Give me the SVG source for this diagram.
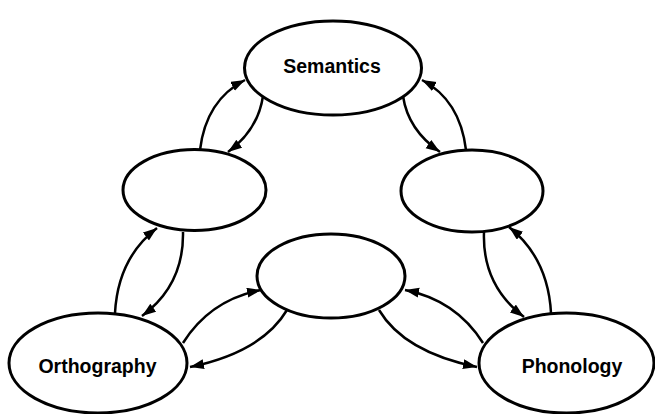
<svg xmlns="http://www.w3.org/2000/svg" width="655" height="414" viewBox="0 0 655 414">
  <style>
    .node ellipse { fill: #ffffff; stroke: #000000; stroke-width: 3; }
    .label { font-family: "Liberation Sans", Arial, sans-serif; font-weight: bold; font-size: 19.5px; fill: #000000; text-anchor: middle; }
    .edge { fill: none; stroke: #000000; stroke-width: 2.5; marker-end: url(#arrow); }
  </style>
  <defs>
    <marker id="arrow" markerUnits="userSpaceOnUse" markerWidth="15" markerHeight="11" refX="14" refY="5" orient="auto">
      <path d="M0,0 L14,5 L0,10 z" fill="#000000"/>
    </marker>
  </defs>
  <rect width="655" height="414" fill="#ffffff"/>

  <g id="connectors">
    <!-- left hidden unit <-> Semantics -->
    <path class="edge" d="M200,150 Q206,100 245,80"/>
    <path class="edge" d="M263,96 Q258,130 228,152"/>
    <!-- right hidden unit <-> Semantics -->
    <path class="edge" d="M403,96 Q408,130 440,152"/>
    <path class="edge" d="M466,150 Q460,100 422,80"/>
    <!-- Orthography <-> left hidden unit -->
    <path class="edge" d="M115,313 Q118,258 157,228"/>
    <path class="edge" d="M183,232 Q184,285 142,316"/>
    <!-- right hidden unit <-> Phonology -->
    <path class="edge" d="M484,232 Q482,285 524,317"/>
    <path class="edge" d="M551,313 Q548,258 509,227"/>
    <!-- Orthography <-> centre hidden unit -->
    <path class="edge" d="M183,343 Q210,300 261,290"/>
    <path class="edge" d="M287,310 Q262,352 190,367"/>
    <!-- centre hidden unit <-> Phonology -->
    <path class="edge" d="M379,310 Q404,352 477,367"/>
    <path class="edge" d="M483,343 Q456,300 405,290"/>
  </g>

  <g id="semantics" class="node">
    <ellipse cx="333" cy="68" rx="88.5" ry="47"/>
    <text class="label" x="332" y="73">Semantics</text>
  </g>
  <g id="hidden-left" class="node">
    <ellipse cx="194.5" cy="190" rx="71.5" ry="40.5"/>
  </g>
  <g id="hidden-right" class="node">
    <ellipse cx="472" cy="191" rx="71" ry="41"/>
  </g>
  <g id="hidden-centre" class="node">
    <ellipse cx="331" cy="276" rx="74" ry="42"/>
  </g>
  <g id="orthography" class="node">
    <ellipse cx="98" cy="363" rx="89" ry="50"/>
    <text class="label" x="97.5" y="373">Orthography</text>
  </g>
  <g id="phonology" class="node">
    <ellipse cx="566.5" cy="363" rx="87.5" ry="50"/>
    <text class="label" x="572" y="373">Phonology</text>
  </g>
</svg>
